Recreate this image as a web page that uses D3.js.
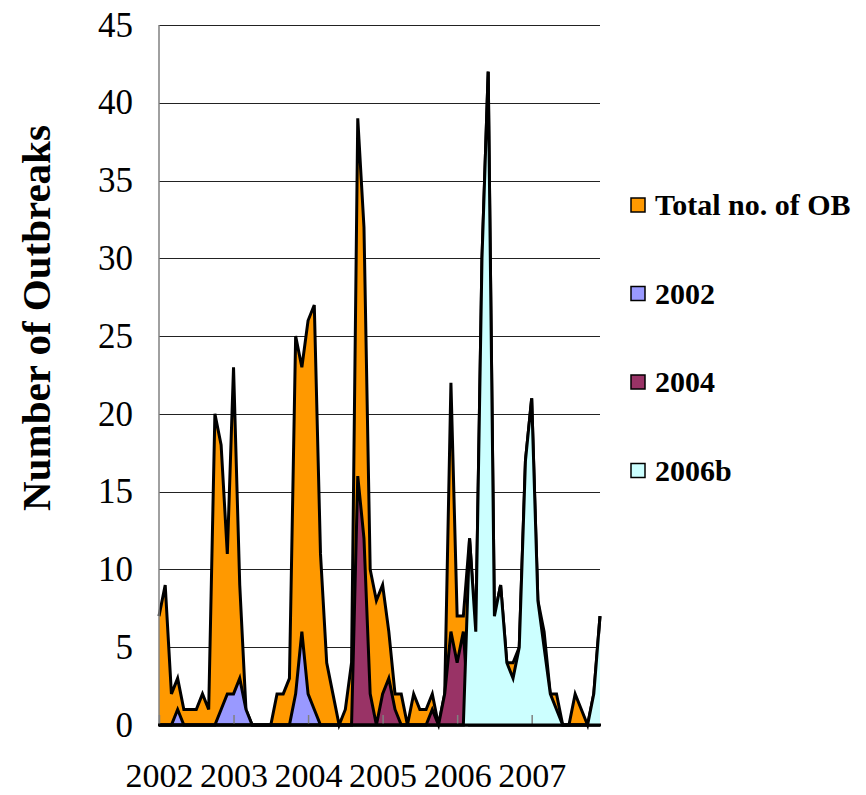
<!DOCTYPE html>
<html>
<head>
<meta charset="utf-8">
<script src="https://cdn.jsdelivr.net/npm/d3@7"></script>
<style>
  body { margin: 0; background: #fff; }
  svg { display: block; }
  text { font-family: "Liberation Serif", "Times New Roman", serif; }
</style>
</head>
<body>
<div id="chart"></div>
<script>
// Monthly outbreak counts, Jan 2002 .. Dec 2007
const yearLabels = ["2002", "2003", "2004", "2005", "2006", "2007"];
const seriesNames = ["Total no. of OB", "2002", "2004", "2006b"];
const seriesColors = ["#FF9900", "#9999FF", "#993366", "#CCFFFF"];

const totalOB = [
    7, 9, 2, 3, 1, 1, 1, 2, 1, 20, 18, 11,
    23, 9, 1, 0, 0, 0, 0, 2, 2, 3, 25, 23,
    26, 27, 11, 4, 2, 0, 1, 4, 39, 32, 10, 8,
    9, 6, 2, 2, 0, 2, 1, 1, 2, 0, 2, 22,
    7, 7, 12, 6, 30, 42, 7, 9, 4, 4, 5, 17,
    21, 8, 6, 2, 2, 0, 0, 2, 1, 0, 2, 7
];
const strain2002 = [
    0, 0, 0, 1, 0, 0, 0, 0, 0, 0, 1, 2,
    2, 3, 1, 0, 0, 0, 0, 0, 0, 0, 2, 6,
    2, 1, 0, 0, 0, 0, 0, 0, 0, 0, 0, 0,
    0, 0, 0, 0, 0, 0, 0, 0, 0, 0, 0, 0,
    0, 0, 0, 0, 0, 0, 0, 0, 0, 0, 0, 0,
    0, 0, 0, 0, 0, 0, 0, 0, 0, 0, 0, 0
];
const strain2004 = [
    0, 0, 0, 0, 0, 0, 0, 0, 0, 0, 0, 0,
    0, 0, 0, 0, 0, 0, 0, 0, 0, 0, 0, 0,
    0, 0, 0, 0, 0, 0, 0, 0, 16, 12, 2, 0,
    2, 3, 1, 0, 0, 0, 0, 0, 1, 0, 2, 6,
    4, 6, 0, 0, 0, 0, 0, 0, 0, 0, 0, 0,
    0, 0, 0, 0, 0, 0, 0, 0, 0, 0, 0, 0
];
const strain2006b = [
    0, 0, 0, 0, 0, 0, 0, 0, 0, 0, 0, 0,
    0, 0, 0, 0, 0, 0, 0, 0, 0, 0, 0, 0,
    0, 0, 0, 0, 0, 0, 0, 0, 0, 0, 0, 0,
    0, 0, 0, 0, 0, 0, 0, 0, 0, 0, 0, 0,
    0, 0, 12, 6, 30, 42, 7, 9, 4, 3, 5, 17,
    21, 8, 5, 2, 1, 0, 0, 0, 0, 0, 2, 7
];
const yTicks = [0, 5, 10, 15, 20, 25, 30, 35, 40, 45];

const width = 866, height = 795;
const plot = { left: 159, right: 600, top: 25, bottom: 725 };

const svg = d3.select("#chart").append("svg")
    .attr("width", width)
    .attr("height", height);

const x = d3.scaleLinear().domain([0, totalOB.length - 1]).range([plot.left, plot.right]);
const y = d3.scaleLinear().domain([0, 45]).range([plot.bottom, plot.top]);

// gridlines + y labels
const yAxis = svg.append("g")
    .attr("transform", `translate(${plot.left},0)`)
    .call(d3.axisLeft(y).tickValues(yTicks).tickSize(-(plot.right - plot.left)).tickPadding(26));
yAxis.select(".domain").remove();
yAxis.selectAll(".tick line").attr("stroke", "#222").attr("stroke-width", 1).attr("shape-rendering", "crispEdges");
yAxis.selectAll(".tick text").attr("font-size", 35).attr("fill", "#000")
    .attr("font-family", "'Liberation Serif', serif");

// areas, drawn back to front
const allSeries = [totalOB, strain2002, strain2004, strain2006b];
const area = d3.area().x((d, i) => x(i)).y0(y(0)).y1(d => y(d));
const line = d3.line().x((d, i) => x(i)).y(d => y(d));

allSeries.forEach((vals, k) => {
    svg.append("path")
        .datum(vals)
        .attr("d", area)
        .attr("fill", seriesColors[k]);
    svg.append("path")
        .datum(vals)
        .attr("d", line)
        .attr("fill", "none")
        .attr("stroke", "#000")
        .attr("stroke-width", 3)
        .attr("stroke-linejoin", "miter");
});

// y axis line
svg.append("line")
    .attr("x1", plot.left).attr("x2", plot.left)
    .attr("y1", plot.top).attr("y2", plot.bottom)
    .attr("stroke", "#808080").attr("stroke-width", 1.5);

// x axis
const xAxis = svg.append("g")
    .attr("transform", `translate(0,${plot.bottom})`)
    .call(d3.axisBottom(x)
        .tickValues(yearLabels.map((d, i) => i * 12))
        .tickFormat(v => yearLabels[v / 12])
        .tickSize(-10)
        .tickPadding(38));
xAxis.select(".domain").remove();
xAxis.selectAll(".tick line").attr("stroke", "#808080").attr("stroke-width", 1.5);
xAxis.selectAll(".tick text").attr("font-size", 34).attr("fill", "#000")
    .attr("font-family", "'Liberation Serif', serif");

svg.append("line")
    .attr("x1", plot.left - 1).attr("x2", plot.right + 1)
    .attr("y1", plot.bottom).attr("y2", plot.bottom)
    .attr("stroke", "#000").attr("stroke-width", 3);

// y title
svg.append("text")
    .attr("transform", `translate(50,318) rotate(-90)`)
    .attr("text-anchor", "middle")
    .attr("font-size", 41)
    .attr("font-weight", "bold")
    .text("Number of Outbreaks");

// legend
const legend = svg.append("g").attr("transform", "translate(631,205)");
seriesNames.forEach((name, k) => {
    const g = legend.append("g").attr("transform", `translate(0,${k * 88.5})`);
    g.append("rect")
        .attr("x", 0).attr("y", -7)
        .attr("width", 14).attr("height", 14)
        .attr("fill", seriesColors[k])
        .attr("stroke", "#000").attr("stroke-width", 1.5);
    g.append("text")
        .attr("x", 24).attr("y", 10)
        .attr("font-size", 30)
        .attr("font-weight", "bold")
        .text(name);
});
</script>
</body>
</html>
